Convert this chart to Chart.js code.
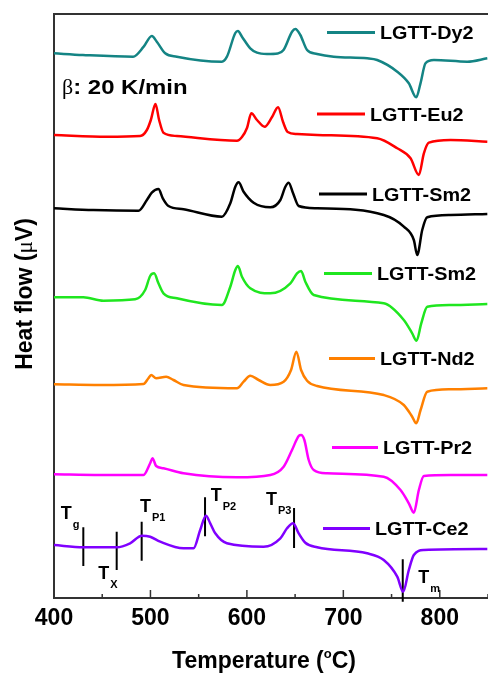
<!DOCTYPE html>
<html>
<head>
<meta charset="utf-8">
<script src="https://cdn.jsdelivr.net/npm/chart.js@4.4.1/dist/chart.umd.min.js"></script>
<style>
  html, body { margin: 0; padding: 0; background: #fff; }
  canvas { display: block; }
</style>
</head>
<body>
<canvas id="dscChart" width="488" height="673"></canvas>
<script>
// Sample names, top to bottom
const samples = ["LGTT-Dy2", "LGTT-Eu2", "LGTT-Sm2", "LGTT-Sm2", "LGTT-Nd2", "LGTT-Pr2", "LGTT-Ce2"];

// DSC curves: [temperature (°C), heat flow (µV, curves stacked)]
const dy2 = [[400,54.47],[430,54.3],[482,54.13],[493,55.13],[501.4,56.2],[506.6,55.63],[515.3,54.47],[527.4,54.13],
  [574.1,53.63],[579.3,54.13],[588,56.5],[590.7,56.7],[594.9,56.13],[603.5,54.97],[610.5,54.53],[620.8,54.4],[632,54.45],
  [638,54.8],[646.8,56.63],[650.3,56.9],[655.4,56.3],[662.4,54.8],[672.8,54.4],[690,54.13],[724.7,53.97],[735.1,53.8],
  [755.9,52.63],[767.9,51.47],[775.6,50.07],[780,51.47],[785.2,53.47],[793.9,53.8],[828.5,53.63],[849.3,53.97]];
const eu2 = [[400,46.3],[454.7,46.13],[489.3,46.2],[496.3,46.8],[500.4,47.8],[505.2,49.4],[509,47.8],[513.5,46.53],
  [527.4,46.2],[589.7,45.73],[594.9,46.1],[600.1,47.0],[604.6,48.47],[610.5,47.8],[618.4,47.13],[626.1,48.1],[632.3,49.07],
  [637.5,47.6],[642.3,46.6],[652,46.4],[672.8,46.3],[735.1,45.97],[755.9,44.97],[769.7,43.97],[778.3,42.3],[783.5,44.47],
  [788.7,45.53],[811.2,45.8],[849.3,45.63]];
const sm2 = [[400,38.97],[440.8,38.8],[487.6,38.73],[496.3,39.8],[501.4,40.53],[508.3,40.9],[512.8,39.97],[518.7,39.2],
  [534.3,38.87],[574.1,38.13],[582.8,39.47],[588,41.13],[591.4,41.57],[596.6,40.63],[607,39.53],[624.3,39.07],[634.7,39.8],
  [639.9,41.13],[643.3,41.53],[647.9,40.47],[653.7,39.2],[672.8,38.97],[741.9,38.3],[762.7,37.13],[773.1,35.8],[776.6,34.3],
  [781.8,36.8],[787,38.07],[811.2,38.3],[849.3,38.4]];
const sm2b = [[400,30.07],[430.4,30.07],[451.2,29.73],[484.1,29.87],[494.5,30.8],[499.7,32.2],[503.8,32.47],[508.3,31.47],
  [513.5,30.47],[527.4,29.97],[574.1,29.3],[582.8,31.13],[588,32.8],[590.7,33.2],[594.9,32.13],[603.5,30.97],[624.3,30.47],
  [645.1,31.47],[652,32.47],[656.2,32.7],[660.6,31.63],[669.3,30.3],[741.9,29.47],[762.7,27.8],[771.4,26.47],[775.9,25.73],
  [780.8,27.47],[787,29.13],[811.2,29.3],[849.3,29.4]];
const nd2 = [[400,21.37],[447.8,21.3],[492.8,21.4],[497.9,21.97],[500.7,22.3],[505.9,21.97],[516.3,22.13],[523.9,21.8],
  [534.3,21.3],[589.7,20.97],[596.6,21.63],[603.5,22.23],[612.2,21.8],[624.3,21.3],[638.1,21.63],[645.8,22.8],[651.3,24.63],
  [656.2,22.8],[662.4,21.73],[672.8,21.2],[741.9,20.3],[762.7,19.3],[771.4,18.13],[775.6,17.47],[780.1,18.8],[787,20.63],
  [811.2,20.87],[849.3,20.97]];
const pr2 = [[400,12.37],[447.8,12.3],[492.8,12.3],[499.7,13.47],[502.1,13.97],[505.9,13.2],[513.5,12.97],[534.3,12.47],
  [589.7,12.07],[624.3,12.3],[638.1,13.13],[646.8,14.8],[653.7,16.2],[656.2,16.3],[659.6,15.8],[664.1,13.8],[669.3,12.8],
  [683.2,12.47],[741.9,12.13],[759.3,10.8],[767.9,9.47],[773.1,8.53],[778.3,10.8],[783.5,12.2],[811.2,12.3],[849.3,12.3]];
const ce2 = [[400,5.3],[430.4,5.07],[465,5.07],[478.9,5.47],[491.1,6.23],[499.7,6.13],[510.1,5.63],[534.3,4.97],
  [544.7,4.97],[551.6,6.8],[557.5,8.23],[562,7.47],[567.2,6.47],[579.3,5.47],[617.3,5.13],[634.7,5.97],[641.6,6.97],
  [647.9,7.47],[653.7,6.47],[660.6,5.53],[672.8,5.07],[724.7,4.47],[741.9,3.8],[755.9,2.13],[762,0.63],[767.9,2.8],
  [773.1,4.3],[783.5,4.8],[849.3,4.9]];
const curves = [dy2, eu2, sm2, sm2b, nd2, pr2, ce2];

// Characteristic temperatures marked on LGTT-Ce2
const markerNames = ["g", "X", "P1", "P2", "P3", "m"];
const markerTemps = [430.4, 465.0, 490.9, 556.6, 648.9, 761.6];
const markerTop = [7.07, 6.63, 7.63, 10.07, 9.0, 3.87];
const markerBottom = [3.2, 2.8, 3.73, 6.17, 5.0, -0.37];
// anchor of each "T" label (temperature, heat flow)
const labelTemps = [406.9, 445.9, 489.2, 562.5, 619.8, 777.7];
const labelFlows = [7.87, 1.87, 8.63, 9.67, 9.33, 1.47];

// Axis
const xTicks = [400, 500, 600, 700, 800];

// Styles
const colors = ["#148484", "#ff0000", "#000000", "#1fe61f", "#ff8000", "#ff00ff", "#8000ff"];
const SANS = "'Liberation Sans', Arial, sans-serif";
const SERIF = "'Liberation Serif', 'Times New Roman', serif";
// legend line [x0, x1, y] in px
const legendSpots = [[327,375,32.5],[317,365,114],[319,367,194],[324,372,273.5],[329,375,358.5],[332,378,447.5],[323,370,528.5]];

// draw text squeezed/stretched horizontally
function wideText(ctx, str, x, y, sx) {
  ctx.save();
  ctx.translate(x, y);
  ctx.scale(sx, 1);
  ctx.fillText(str, 0, 0);
  ctx.restore();
  return ctx.measureText(str).width * sx;
}

// Frame, inward ticks, legend, labels and titles
const decor = {
  id: "decor",
  afterDraw(chart) {
    const { ctx, chartArea: a, scales: { x, y } } = chart;
    ctx.save();
    ctx.strokeStyle = "#333";
    ctx.lineWidth = 2;
    ctx.beginPath();
    ctx.moveTo(a.left, a.top);
    ctx.lineTo(a.right, a.top);
    ctx.stroke();

    ctx.lineWidth = 1.5;
    for (let v = 400; v <= 850; v += 50) {
      const px = x.getPixelForValue(v);
      const len = v % 100 === 0 ? 8 : 4;
      ctx.beginPath();
      ctx.moveTo(px, a.bottom);
      ctx.lineTo(px, a.bottom - len);
      ctx.stroke();
    }

    // legend
    ctx.fillStyle = "#000";
    ctx.textBaseline = "alphabetic";
    ctx.font = "bold 18px " + SANS;
    legendSpots.forEach((s, i) => {
      ctx.strokeStyle = colors[i];
      ctx.lineWidth = 3;
      ctx.beginPath();
      ctx.moveTo(s[0], s[2]);
      ctx.lineTo(s[1], s[2]);
      ctx.stroke();
      wideText(ctx, samples[i], s[1] + 5, s[2] + 6.5, 1.1);
    });

    // heating rate
    ctx.font = "22px " + SERIF;
    let bx = 62;
    bx += wideText(ctx, "β", bx, 93.5, 1.0);
    ctx.font = "bold 21px " + SANS;
    wideText(ctx, ": 20 K/min", bx, 93.5, 1.14);

    // T labels
    markerNames.forEach((n, i) => {
      const lx = x.getPixelForValue(labelTemps[i]);
      const ly = y.getPixelForValue(labelFlows[i]);
      ctx.font = "bold 18px " + SANS;
      ctx.fillText("T", lx, ly);
      const w = ctx.measureText("T").width;
      ctx.font = "bold 11px " + SANS;
      ctx.fillText(n, lx + w + 1, ly + 9);
    });

    // x title
    const cx = 264;
    ctx.font = "bold 23px " + SANS;
    const p1 = "Temperature (", p3 = "C)";
    const w1 = ctx.measureText(p1).width, w3 = ctx.measureText(p3).width;
    ctx.font = "bold 13px " + SANS;
    const w2 = ctx.measureText("o").width;
    let tx = cx - (w1 + w2 + w3) / 2;
    ctx.font = "bold 23px " + SANS;
    ctx.fillText(p1, tx, 668);
    ctx.font = "bold 13px " + SANS;
    ctx.fillText("o", tx + w1, 658);
    ctx.font = "bold 23px " + SANS;
    ctx.fillText(p3, tx + w1 + w2, 668);

    // y title
    ctx.save();
    ctx.translate(31.5, 294);
    ctx.rotate(-Math.PI / 2);
    const q1 = "Heat flow (", q2 = "μ", q3 = "V)";
    ctx.font = "bold 23px " + SANS;
    const v1 = ctx.measureText(q1).width, v3 = ctx.measureText(q3).width;
    ctx.font = "23px " + SERIF;
    const v2 = ctx.measureText(q2).width;
    let ty = -(v1 + v2 + v3) / 2;
    ctx.font = "bold 23px " + SANS;
    ctx.fillText(q1, ty, 0);
    ctx.font = "23px " + SERIF;
    ctx.fillText(q2, ty + v1, 0);
    ctx.font = "bold 23px " + SANS;
    ctx.fillText(q3, ty + v1 + v2, 0);
    ctx.restore();

    ctx.restore();
  }
};

// Build datasets
const datasets = curves.map((c, i) => ({
  label: samples[i],
  data: c.map(p => ({ x: p[0], y: p[1] })),
  borderColor: colors[i],
  borderWidth: 2.5,
  cubicInterpolationMode: "monotone",
  pointRadius: 0,
  fill: false
}));
markerTemps.forEach((t, i) => {
  datasets.push({
    label: "T" + markerNames[i],
    data: [{ x: t, y: markerTop[i] }, { x: t, y: markerBottom[i] }],
    borderColor: "#000",
    borderWidth: 2,
    pointRadius: 0,
    clip: false
  });
});

const ctx = document.getElementById("dscChart");
new Chart(ctx, {
  type: "line",
  data: { datasets },
  options: {
    responsive: false,
    animation: false,
    devicePixelRatio: 1,
    layout: { padding: { top: 14, right: 0, left: 0, bottom: 0 } },
    plugins: { legend: { display: false }, tooltip: { enabled: false } },
    scales: {
      x: {
        type: "linear",
        min: 400,
        max: 850,
        ticks: {
          stepSize: 50,
          autoSkip: false,
          maxRotation: 0,
          padding: 7,
          color: "#000",
          font: { family: SANS, size: 23, weight: "bold" },
          callback: v => (xTicks.includes(v) ? v : "")
        },
        grid: { drawOnChartArea: false, drawTicks: false },
        border: { color: "#333", width: 2 },
        afterFit: s => { s.height = 75; s.paddingLeft = 0; s.paddingRight = 0; }
      },
      y: {
        min: 0,
        max: 58.4,
        ticks: { display: false },
        grid: { display: false },
        border: { color: "#333", width: 2 },
        afterFit: s => { s.width = 54; }
      }
    }
  },
  plugins: [decor]
});
</script>
</body>
</html>
